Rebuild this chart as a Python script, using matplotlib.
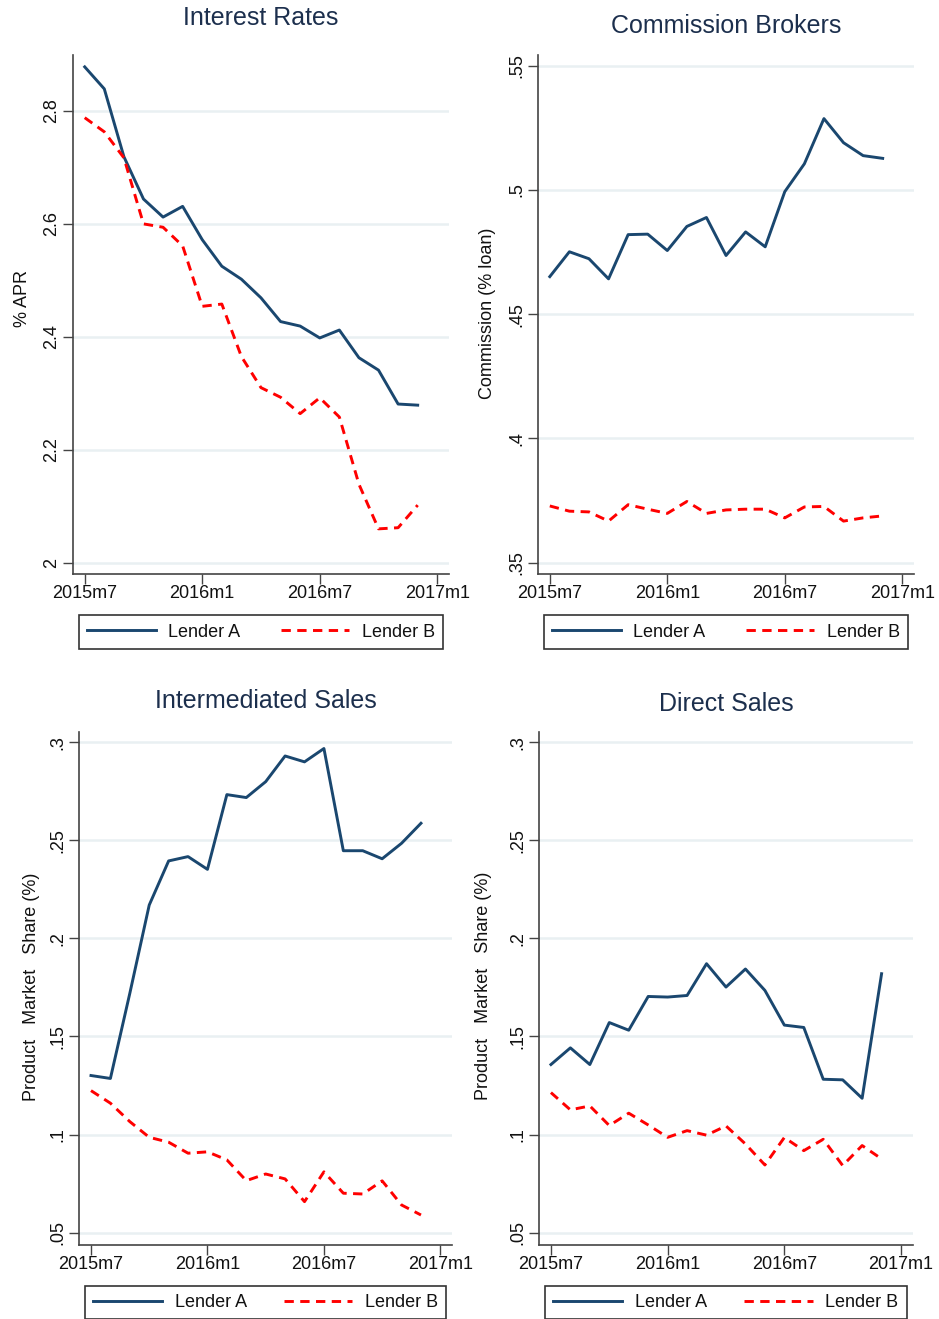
import numpy as np
import matplotlib
matplotlib.use("Agg")
import matplotlib.pyplot as plt

plt.rcParams['font.family'] = ['Liberation Sans', 'DejaVu Sans']

# monthly series, 2015m7 .. 2016m12
months = ["2015m7", "2015m8", "2015m9", "2015m10", "2015m11", "2015m12",
          "2016m1", "2016m2", "2016m3", "2016m4", "2016m5", "2016m6",
          "2016m7", "2016m8", "2016m9", "2016m10", "2016m11", "2016m12"]
xtick_pos = [0, 6, 12, 18]
xtick_labels = ["2015m7", "2016m1", "2016m7", "2017m1"]

rates_a = [2.878, 2.839, 2.719, 2.644, 2.612, 2.631, 2.572, 2.525, 2.502,
           2.469, 2.427, 2.419, 2.398, 2.412, 2.363, 2.341, 2.281, 2.279]
rates_b = [2.788, 2.763, 2.717, 2.600, 2.594, 2.561, 2.454, 2.458, 2.365,
           2.310, 2.293, 2.264, 2.292, 2.258, 2.139, 2.060, 2.062, 2.102]

comm_a = [0.4651, 0.4751, 0.4723, 0.4642, 0.4820, 0.4822, 0.4756, 0.4853, 0.4889,
          0.4736, 0.4831, 0.4771, 0.4993, 0.5105, 0.5287, 0.5190, 0.5138, 0.5127]
comm_b = [0.3728, 0.3707, 0.3704, 0.3667, 0.3733, 0.3715, 0.3698, 0.3746, 0.3698,
          0.3712, 0.3715, 0.3715, 0.3680, 0.3724, 0.3726, 0.3667, 0.3680, 0.3688]

inter_a = [0.1301, 0.1286, 0.1720, 0.2170, 0.2395, 0.2417, 0.2352, 0.2733, 0.2718,
           0.2799, 0.2930, 0.2900, 0.2968, 0.2447, 0.2447, 0.2406, 0.2485, 0.2587]
inter_b = [0.1224, 0.1160, 0.1066, 0.0986, 0.0961, 0.0905, 0.0912, 0.0871, 0.0765,
           0.0799, 0.0774, 0.0658, 0.0810, 0.0701, 0.0697, 0.0764, 0.0641, 0.0590]

direct_a = [0.1357, 0.1442, 0.1357, 0.1571, 0.1532, 0.1704, 0.1701, 0.1709, 0.1871,
            0.1752, 0.1844, 0.1735, 0.1558, 0.1546, 0.1282, 0.1279, 0.1185, 0.1820]
direct_b = [0.1214, 0.1126, 0.1146, 0.1046, 0.1109, 0.1049, 0.0986, 0.1020, 0.0997,
            0.1044, 0.0952, 0.0845, 0.0985, 0.0918, 0.0976, 0.0842, 0.0944, 0.0876]

rate_ticks = [2.0, 2.2, 2.4, 2.6, 2.8]
rate_labels = ["2", "2.2", "2.4", "2.6", "2.8"]
comm_ticks = [0.35, 0.40, 0.45, 0.50, 0.55]
comm_labels = [".35", ".4", ".45", ".5", ".55"]
share_ticks = [0.05, 0.10, 0.15, 0.20, 0.25, 0.30]
share_labels = [".05", ".1", ".15", ".2", ".25", ".3"]

NAVY = "#1a476f"
RED = "#ff0000"
TITLE_C = "#1c2f4d"
GRID_C = "#e9f0f2"

x = np.arange(len(months))

fig = plt.figure(figsize=(9.39, 13.19), dpi=100)

panels = [
    # rect, title, title_y, ylabel, ylabel_xy, a, b, yticks, ylabels, ylim
    ([0.0777, 0.5648, 0.4005, 0.3935], "Interest Rates", 1.071, "% APR", (-0.112, 0.531),
     rates_a, rates_b, rate_ticks, rate_labels, (1.980, 2.899)),
    ([0.5730, 0.5648, 0.4004, 0.3935], "Commission Brokers", 1.056, "Commission (% loan)", (-0.112, 0.502),
     comm_a, comm_b, comm_ticks, comm_labels, (0.3454, 0.5543)),
    ([0.0845, 0.0561, 0.3969, 0.3892], "Intermediated Sales", 1.060, "Product   Market   Share (%)", (-0.106, 0.503),
     inter_a, inter_b, share_ticks, share_labels, (0.0437, 0.3054)),
    ([0.5743, 0.0561, 0.3977, 0.3892], "Direct Sales", 1.054, "Product   Market   Share (%)", (-0.127, 0.505),
     direct_a, direct_b, share_ticks, share_labels, (0.0437, 0.3054)),
]

for rect, title, ty, ylab, ylab_xy, a, b, yt, yl, ylim in panels:
    ax = fig.add_axes(rect)
    for t in yt:
        ax.axhline(t, color=GRID_C, lw=1.8, zorder=0)
    ax.plot(x, a, color=NAVY, lw=2.1, label="Lender A", zorder=3)
    ax.plot(x, b, color=RED, lw=2.1, ls=(0, (3.2, 2.2)), label="Lender B", zorder=3)

    ax.set_xlim(-0.6, 18.6)
    ax.set_ylim(*ylim)
    ax.set_xticks(xtick_pos)
    ax.set_xticklabels(xtick_labels, fontsize=13, color="#111111")
    ax.set_yticks(yt)
    ax.set_yticklabels(yl, fontsize=13, color="#111111", rotation=90, va="center")
    ax.tick_params(axis="both", direction="out", length=7, width=1.0, color="#444444", pad=2)
    ax.tick_params(axis="x", pad=1)

    for side in ["top", "right"]:
        ax.spines[side].set_visible(False)
    for side in ["left", "bottom"]:
        ax.spines[side].set_color("#444444")
        ax.spines[side].set_linewidth(1.2)

    ax.set_ylabel(ylab, fontsize=13, color="#111111")
    ax.yaxis.set_label_coords(*ylab_xy)
    ax.text(0.5, ty, title, transform=ax.transAxes, ha="center", va="center",
            fontsize=18, color=TITLE_C)

    leg = ax.legend(loc="center", ncol=2, mode="expand",
                    bbox_to_anchor=(0.016, -0.1445, 0.968, 0.0655),
                    fontsize=13, handlelength=3.8, handletextpad=0.7,
                    columnspacing=2.0, fancybox=False, framealpha=1,
                    borderaxespad=0, borderpad=0.45)
    leg.get_frame().set_edgecolor("#333333")
    leg.get_frame().set_linewidth(1.2)
    for t in leg.get_texts():
        t.set_color("#111111")

fig.savefig("out.png", dpi=100, facecolor="white")
